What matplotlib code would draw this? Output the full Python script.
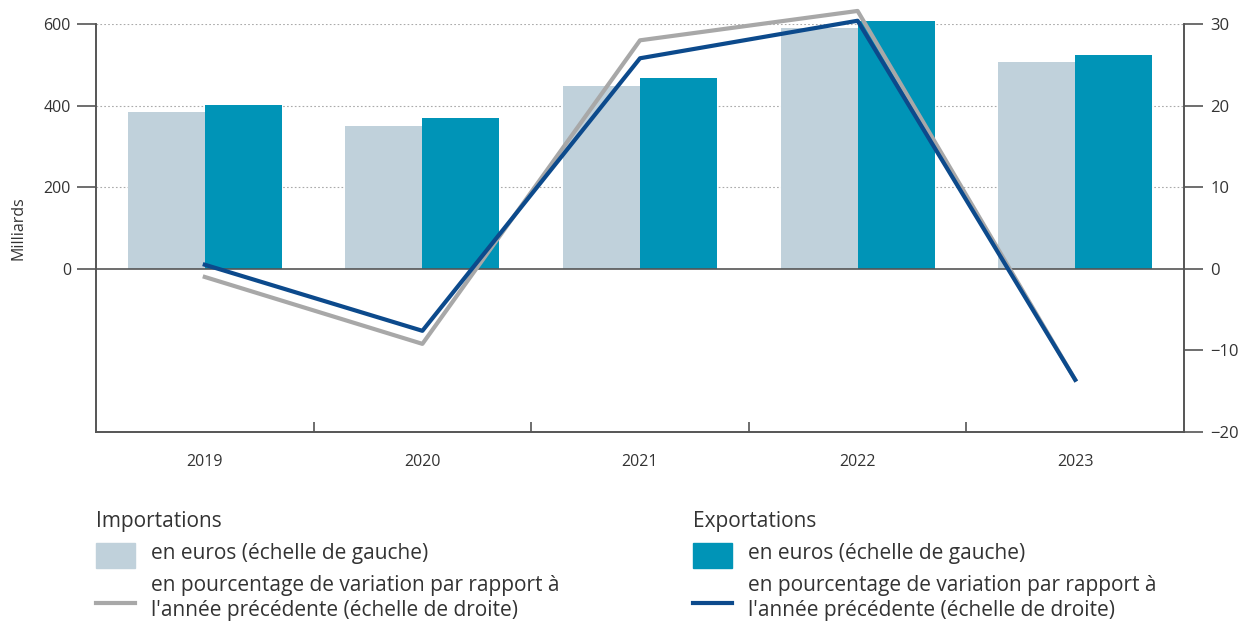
import matplotlib.pyplot as plt
import numpy as np
from matplotlib.patches import Rectangle
from matplotlib.lines import Line2D

plt.rcParams['font.family'] = ['Open Sans', 'DejaVu Sans']

years = ['2019', '2020', '2021', '2022', '2023']
imports_eur = [384, 349, 447, 590, 507]
exports_eur = [401, 369, 467, 607, 524]
imports_pct = [-1.0, -9.2, 28.0, 31.6, -13.6]
exports_pct = [0.5, -7.6, 25.8, 30.4, -13.6]

c_imp = '#c0d1db'
c_exp = '#0094b7'
c_imp_line = '#a8a8a8'
c_exp_line = '#0c4a8c'
c_axis = '#555555'
c_text = '#333333'

fig = plt.figure(figsize=(12.38, 6.25), dpi=100)
ax = fig.add_axes([96 / 1238, 1 - 432 / 625, 1088 / 1238, 408 / 625])

x = np.arange(len(years))
w = 0.354
ax.bar(x - w / 2, imports_eur, w, color=c_imp, zorder=2, clip_on=False)
ax.bar(x + w / 2, exports_eur, w, color=c_exp, zorder=2, clip_on=False)

ax.set_xlim(-0.5, len(years) - 0.5)
ax.set_ylim(-400, 600)
ax.set_yticks([0, 200, 400, 600])
for v in [200, 400, 600]:
    ax.axhline(v, color='#aaaaaa', lw=0.8, ls=(0, (1.5, 2)), zorder=1)
ax.axhline(0, color=c_axis, lw=1.2, zorder=3)

ax.set_xticks(x)
ax.set_xticklabels(years)
ax.set_xticks(np.arange(0.5, len(years) - 1, 1), minor=True)
ax.tick_params(axis='x', which='major', length=0, pad=16, labelsize=11.5, labelcolor=c_text)
ax.tick_params(axis='x', which='minor', direction='in', length=7, color=c_axis, width=1.2)
ax.tick_params(axis='y', length=14, width=1.2, color=c_axis, labelsize=11.5, labelcolor=c_text, pad=4)
ax.set_ylabel('Milliards', fontsize=11.5, color=c_text, labelpad=12)

ax.spines['top'].set_visible(False)
for s in ['left', 'bottom', 'right']:
    ax.spines[s].set_color(c_axis)
    ax.spines[s].set_linewidth(1.2)

ax2 = ax.twinx()
ax2.set_ylim(-20, 30)
ax2.set_yticks([-20, -10, 0, 10, 20, 30])
ax2.set_yticklabels(['\u221220', '\u221210', '0', '10', '20', '30'])
ax2.tick_params(axis='y', length=14, width=1.2, color=c_axis, labelsize=12, labelcolor=c_text, pad=5)
ax2.spines['top'].set_visible(False)
for s in ['left', 'bottom', 'right']:
    ax2.spines[s].set_color(c_axis)
    ax2.spines[s].set_linewidth(1.2)
ax2.plot(x, imports_pct, color=c_imp_line, lw=3, clip_on=False, zorder=4)
ax2.plot(x, exports_pct, color=c_exp_line, lw=3, clip_on=False, zorder=5)

# legend
def legend_block(x0, title, patch_color, line_color):
    fig.text(x0 / 1238, 1 - 522 / 625, title, fontsize=15, color=c_text, va='center')
    fig.add_artist(Rectangle((x0 / 1238, 1 - 568 / 625), 39 / 1238, 25 / 625,
                             color=patch_color, transform=fig.transFigure))
    fig.text((x0 + 55) / 1238, 1 - 553 / 625, 'en euros (échelle de gauche)',
             fontsize=15, color=c_text, va='center')
    fig.add_artist(Line2D([x0 / 1238, (x0 + 39) / 1238], [1 - 603 / 625] * 2,
                          color=line_color, lw=3, transform=fig.transFigure))
    fig.text((x0 + 55) / 1238, 1 - 598 / 625,
             "en pourcentage de variation par rapport à\nl'année précédente (échelle de droite)",
             fontsize=15, color=c_text, va='center', linespacing=1.3)

legend_block(96, 'Importations', c_imp, c_imp_line)
legend_block(693, 'Exportations', c_exp, c_exp_line)

fig.savefig('out.png', dpi=100)
